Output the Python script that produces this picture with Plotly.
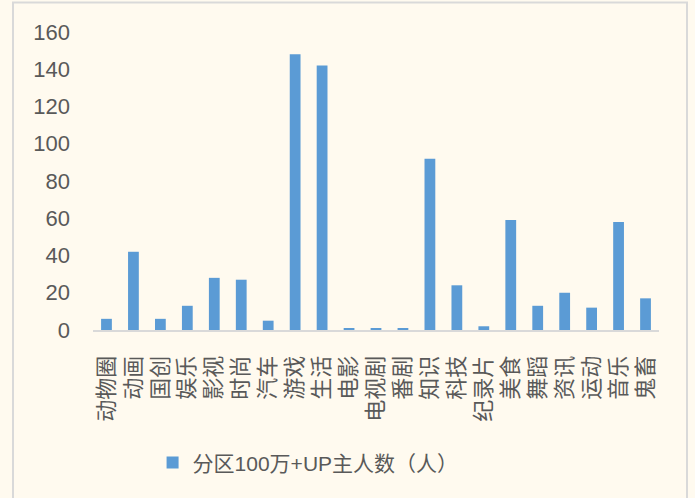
import plotly.graph_objects as go

categories = ["动物圈", "动画", "国创", "娱乐", "影视", "时尚", "汽车", "游戏", "生活", "电影",
              "电视剧", "番剧", "知识", "科技", "纪录片", "美食", "舞蹈", "资讯", "运动", "音乐", "鬼畜"]
values = [6, 42, 6, 13, 28, 27, 5, 148, 142, 1, 1, 1, 92, 24, 2, 59, 13, 20, 12, 58, 17]
series_name = "分区100万+UP主人数（人）"
y_ticks = [0, 20, 40, 60, 80, 100, 120, 140, 160]

W, H = 695, 498
L, R, T, B = 93, 36, 31.5, 168
ph = H - T - B
pw = W - L - R

fig = go.Figure()
fig.add_trace(go.Bar(
    x=categories, y=values, name=series_name,
    marker=dict(color="#5B9BD5", line=dict(width=0)),
    showlegend=True,
))

fig.update_layout(
    width=W, height=H,
    margin=dict(l=L, r=R, t=T, b=B, autoexpand=False),
    paper_bgcolor="#FFFAEF",
    plot_bgcolor="#FFFAEF",
    bargap=0.6,
    font=dict(family="Liberation Sans, Noto Sans CJK SC", color="#595959", size=20),
    showlegend=True,
    legend=dict(
        orientation="h", x=0.38, xanchor="center", y=-0.446, yanchor="middle",
        font=dict(size=21, family="Liberation Sans, Noto Sans CJK SC", color="#595959"),
        bgcolor="rgba(0,0,0,0)", itemwidth=30,
    ),
    xaxis=dict(
        tickangle=-90, showgrid=False, showline=True, linecolor="#D9D9D9", linewidth=2,
        ticks="", tickfont=dict(size=22, family="Noto Sans CJK SC", color="#595959"),
        automargin=False, fixedrange=True, ticklabelstandoff=15,
    ),
    yaxis=dict(
        range=[0, 160], tickvals=y_ticks, showgrid=False, showline=False, zeroline=False,
        ticks="", tickfont=dict(size=22, family="Liberation Sans", color="#595959"),
        automargin=False, ticklabelstandoff=22, fixedrange=True,
    ),
    shapes=[dict(type="rect", xref="paper", yref="paper",
                 x0=(13 - L) / pw, x1=(687 - L) / pw,
                 y0=-(B + 10) / ph, y1=1 + (T - 2) / ph,
                 line=dict(color="#D9D9D9", width=2), layer="below")],
)

fig.write_html("out.html", config={"displayModeBar": False},
               post_script="document.body.style.margin='0';")
